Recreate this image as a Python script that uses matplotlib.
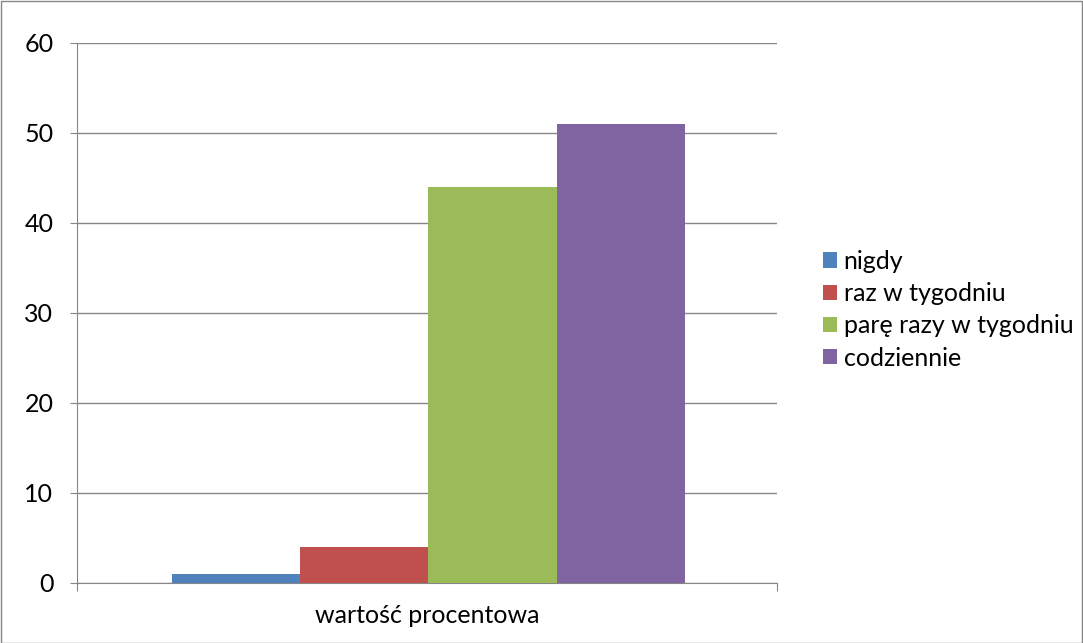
import numpy as np
import matplotlib.pyplot as plt

plt.rcParams['font.family'] = ['Lato', 'DejaVu Sans']

series = ["nigdy", "raz w tygodniu", "parę razy w tygodniu", "codziennie"]
values = [1, 4, 44, 51]
colors = ["#4F81BD", "#C0504D", "#9BBB59", "#8064A2"]
category = "wartość procentowa"

fig = plt.figure(figsize=(10.83, 6.43), dpi=100)
ax = fig.add_axes([77 / 1083, 1 - 583 / 643, 700 / 1083, 540 / 643])

w = 0.183
for i, (name, v, c) in enumerate(zip(series, values, colors)):
    ax.bar((i - 1.5) * w + 0.002, v, width=w, color=c, label=name, zorder=3)

ax.set_xlim(-0.5, 0.5)
ax.set_ylim(0, 60)
ax.set_yticks(range(0, 61, 10))
ax.yaxis.grid(True, color="#868686", linewidth=1, zorder=0)
ax.set_xticks([-0.5, 0.5])
ax.set_xticklabels([])
ax.tick_params(axis="x", length=6, color="#868686")
ax.tick_params(axis="y", length=5, color="#868686", labelsize=18, pad=12)
ax.text(0.5, -0.038, category, transform=ax.transAxes, ha="center", va="top", fontsize=18)
for s in ["top", "right"]:
    ax.spines[s].set_visible(False)
for s in ["left", "bottom"]:
    ax.spines[s].set_color("#868686")

ax.legend(loc="center left", bbox_to_anchor=(1.033, 0.506),
          frameon=False, fontsize=18, handlelength=0.56, handleheight=0.56,
          handletextpad=0.28, labelspacing=0.37)

fig.patches.append(plt.Rectangle((0.5 / 1083, 0.5 / 643), 1 - 1.5 / 1083, 1 - 1.5 / 643,
                                 transform=fig.transFigure, fill=False,
                                 edgecolor="#868686", linewidth=1))

fig.savefig("out.png", dpi=100)
